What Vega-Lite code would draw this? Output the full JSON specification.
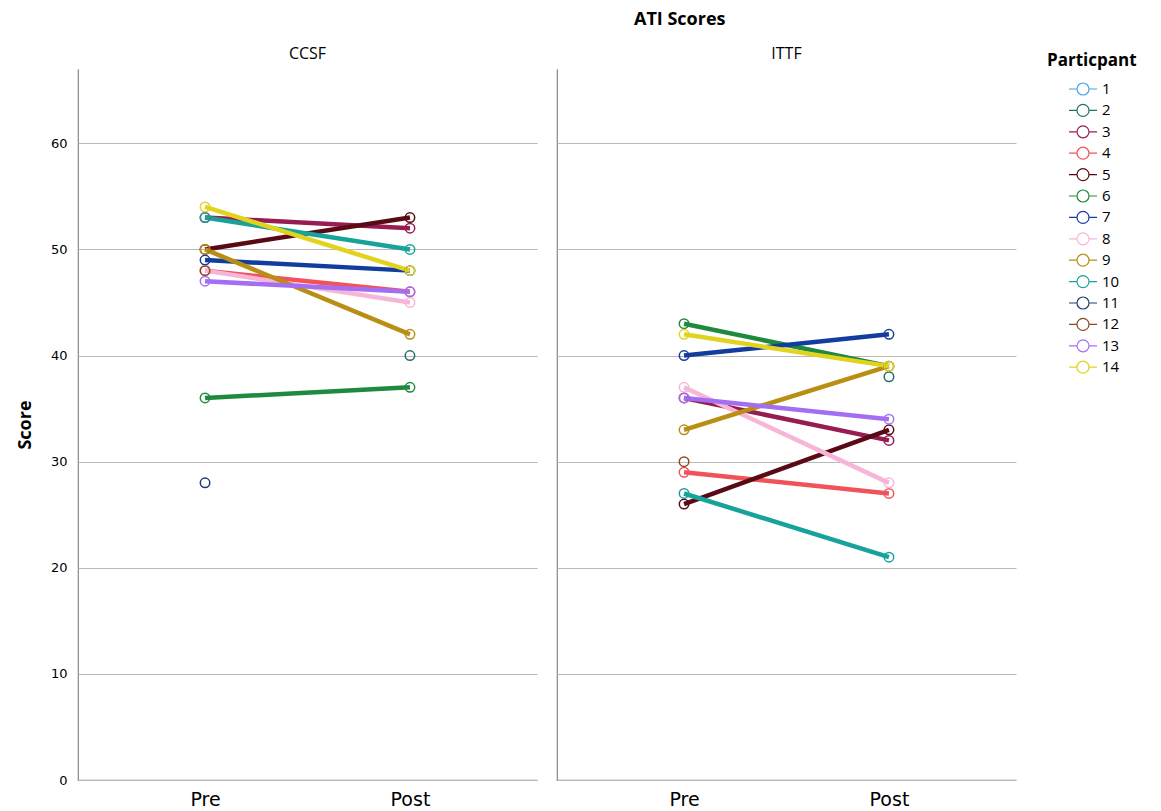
{
  "$schema": "https://vega.github.io/schema/vega-lite/v6.json",
  "background": "white",
  "padding": {"left": 16, "top": 11, "right": 5, "bottom": 5},
  "title": {"text": "ATI Scores", "font": "Open Sans", "fontSize": 18, "fontWeight": "bold", "color": "#000", "anchor": "middle", "offset": 17, "dx": 103},
  "data": {"values": [
    {"group": "CCSF", "participant": 2, "phase": "Post", "score": 40},
    {"group": "CCSF", "participant": 3, "phase": "Pre", "score": 53},
    {"group": "CCSF", "participant": 3, "phase": "Post", "score": 52},
    {"group": "CCSF", "participant": 4, "phase": "Pre", "score": 48},
    {"group": "CCSF", "participant": 4, "phase": "Post", "score": 46},
    {"group": "CCSF", "participant": 5, "phase": "Pre", "score": 50},
    {"group": "CCSF", "participant": 5, "phase": "Post", "score": 53},
    {"group": "CCSF", "participant": 6, "phase": "Pre", "score": 36},
    {"group": "CCSF", "participant": 6, "phase": "Post", "score": 37},
    {"group": "CCSF", "participant": 7, "phase": "Pre", "score": 49},
    {"group": "CCSF", "participant": 7, "phase": "Post", "score": 48},
    {"group": "CCSF", "participant": 8, "phase": "Pre", "score": 48},
    {"group": "CCSF", "participant": 8, "phase": "Post", "score": 45},
    {"group": "CCSF", "participant": 9, "phase": "Pre", "score": 50},
    {"group": "CCSF", "participant": 9, "phase": "Post", "score": 42},
    {"group": "CCSF", "participant": 10, "phase": "Pre", "score": 53},
    {"group": "CCSF", "participant": 10, "phase": "Post", "score": 50},
    {"group": "CCSF", "participant": 11, "phase": "Pre", "score": 28},
    {"group": "CCSF", "participant": 12, "phase": "Pre", "score": 48},
    {"group": "CCSF", "participant": 13, "phase": "Pre", "score": 47},
    {"group": "CCSF", "participant": 13, "phase": "Post", "score": 46},
    {"group": "CCSF", "participant": 14, "phase": "Pre", "score": 54},
    {"group": "CCSF", "participant": 14, "phase": "Post", "score": 48},
    {"group": "ITTF", "participant": 2, "phase": "Post", "score": 38},
    {"group": "ITTF", "participant": 3, "phase": "Pre", "score": 36},
    {"group": "ITTF", "participant": 3, "phase": "Post", "score": 32},
    {"group": "ITTF", "participant": 4, "phase": "Pre", "score": 29},
    {"group": "ITTF", "participant": 4, "phase": "Post", "score": 27},
    {"group": "ITTF", "participant": 5, "phase": "Pre", "score": 26},
    {"group": "ITTF", "participant": 5, "phase": "Post", "score": 33},
    {"group": "ITTF", "participant": 6, "phase": "Pre", "score": 43},
    {"group": "ITTF", "participant": 6, "phase": "Post", "score": 39},
    {"group": "ITTF", "participant": 7, "phase": "Pre", "score": 40},
    {"group": "ITTF", "participant": 7, "phase": "Post", "score": 42},
    {"group": "ITTF", "participant": 8, "phase": "Pre", "score": 37},
    {"group": "ITTF", "participant": 8, "phase": "Post", "score": 28},
    {"group": "ITTF", "participant": 9, "phase": "Pre", "score": 33},
    {"group": "ITTF", "participant": 9, "phase": "Post", "score": 39},
    {"group": "ITTF", "participant": 10, "phase": "Pre", "score": 27},
    {"group": "ITTF", "participant": 10, "phase": "Post", "score": 21},
    {"group": "ITTF", "participant": 12, "phase": "Pre", "score": 30},
    {"group": "ITTF", "participant": 13, "phase": "Pre", "score": 36},
    {"group": "ITTF", "participant": 13, "phase": "Post", "score": 34},
    {"group": "ITTF", "participant": 14, "phase": "Pre", "score": 42},
    {"group": "ITTF", "participant": 14, "phase": "Post", "score": 39}
  ]},
  "facet": {
    "column": {
      "field": "group", "type": "nominal", "title": null,
      "header": {"labelFont": "Open Sans", "labelFontSize": 16, "labelColor": "#000", "labelPadding": 6}
    }
  },
  "spacing": 18,
  "spec": {
    "width": 459,
    "height": 711,
    "layer": [
      {
        "mark": {"type": "line", "strokeWidth": 4.5},
        "encoding": {
          "x": {"field": "phase", "type": "ordinal"},
          "y": {"field": "score", "type": "quantitative"},
          "color": {"field": "participant", "type": "ordinal"},
          "detail": {"field": "participant"},
          "order": {"field": "phase", "sort": "descending"}
        }
      },
      {
        "mark": {"type": "point", "filled": false, "size": 90, "strokeWidth": 1.5, "opacity": 1, "fill": "white", "fillOpacity": 0},
        "encoding": {
          "x": {"field": "phase", "type": "ordinal"},
          "y": {"field": "score", "type": "quantitative"},
          "color": {"field": "participant", "type": "ordinal"}
        }
      }
    ],
    "encoding": {
      "x": {
        "field": "phase", "type": "ordinal", "sort": ["Pre", "Post"], "title": null,
        "scale": {"type": "point", "padding": 0.62},
        "axis": {"labelAngle": 0, "labelFont": "DejaVu Sans", "labelFontSize": 19, "labelColor": "#000", "ticks": false, "domain": false, "labelPadding": 9, "grid": false}
      },
      "y": {
        "field": "score", "type": "quantitative", "title": "Score",
        "scale": {"domain": [0, 67], "nice": false, "zero": true},
        "axis": {"values": [0, 10, 20, 30, 40, 50, 60], "labelFont": "DejaVu Sans", "labelFontSize": 13, "labelColor": "#000", "ticks": false, "domain": false, "labelPadding": 10, "titleFont": "Open Sans", "titleFontSize": 18, "titleFontWeight": "bold", "titleColor": "#000", "titlePadding": 16, "grid": true, "gridColor": "#b8b8b8", "gridWidth": 1}
      },
      "color": {
        "field": "participant", "type": "ordinal", "title": "Particpant",
        "scale": {
          "domain": [1, 2, 3, 4, 5, 6, 7, 8, 9, 10, 11, 12, 13, 14],
          "range": ["#4aa3e6", "#24716a", "#961c52", "#f2525a", "#5a0a14", "#1f8a3e", "#123d9e", "#f7b6d8", "#b88f13", "#17a39b", "#233e6e", "#8a4a22", "#a46ef2", "#e2d31e"]
        },
        "legend": {
          "orient": "none", "legendX": 969, "legendY": -16,
          "titleFont": "Open Sans", "titleFontSize": 17, "titleFontWeight": "bold", "titleColor": "#000", "titlePadding": 8,
          "labelFont": "Open Sans", "labelFontSize": 15, "labelColor": "#000",
          "symbolType": "M-1.4,0L-0.6,0M0.6,0L1.4,0M0.6,0A0.6,0.6,0,1,1,-0.6,0A0.6,0.6,0,1,1,0.6,0",
          "symbolSize": 400, "symbolStrokeWidth": 1.2, "symbolFillColor": "transparent", "symbolOffset": 25,
          "rowPadding": 1.4, "labelOffset": 8
        }
      }
    }
  },
  "config": {
    "view": {"stroke": "#888", "strokeWidth": 1.2, "strokeDash": [0, 1170, 1170, 0]}
  }
}
